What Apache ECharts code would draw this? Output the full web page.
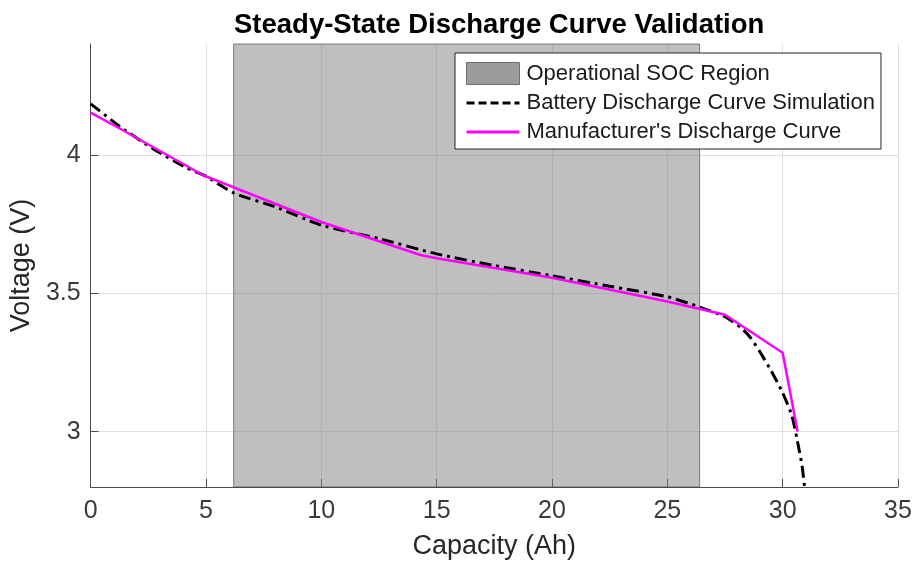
<!DOCTYPE html>
<html>
<head>
<meta charset="utf-8">
<title>Steady-State Discharge Curve Validation</title>
<script src="https://cdn.jsdelivr.net/npm/echarts@6/dist/echarts.min.js"></script>
<style>
  html, body { margin: 0; padding: 0; background: #fff; }
  #myChart { width: 916px; height: 566px; }
</style>
</head>
<body>
<div id="myChart"></div>
<script>
// data
const simCapacity = [0, 1.3, 2.7, 4.15, 5, 6.2, 8, 10, 12.5, 15, 17.5, 20, 22.5, 25, 26.4, 27.5, 28.2, 28.6, 29.0, 29.5, 30.0, 30.4, 30.62, 30.84, 30.95]
const simVoltage = [4.184, 4.100, 4.022, 3.953, 3.922, 3.862, 3.812, 3.746, 3.697, 3.642, 3.600, 3.563, 3.525, 3.487, 3.450, 3.415, 3.375, 3.340, 3.290, 3.220, 3.140, 3.058, 2.974, 2.877, 2.800]

const mfgCapacity = [0, 1.3, 2.7, 4.9, 10, 14.3, 15, 20, 25, 27.5, 30.0, 30.65]
const mfgVoltage = [4.152, 4.093, 4.028, 3.925, 3.757, 3.638, 3.626, 3.556, 3.470, 3.422, 3.285, 3.0]

const socRegion = [6.2, 26.4]
const yTicks = [3, 3.5, 4]

const seriesNames = ['Operational SOC Region', 'Battery Discharge Curve Simulation', "Manufacturer's Discharge Curve"]

const font = 'Liberation Sans, Arial, Helvetica, sans-serif'

function pairs(xs, ys) {
  return xs.map((x, i) => [x, ys[i]])
}

let myChart = echarts.init(document.getElementById('myChart'))

// line entries in the legend: keep the line, hide the marker
const noMarker = { color: 'rgba(0,0,0,0)', borderColor: 'rgba(0,0,0,0)', opacity: 0 }

let option = {
  animation: false,
  textStyle: { fontFamily: font },
  title: {
    text: 'Steady-State Discharge Curve Validation',
    left: 229,
    top: 6,
    textStyle: {
      fontFamily: font,
      fontSize: 27.5,
      fontWeight: 'bold',
      color: '#000'
    }
  },
  legend: {
    orient: 'vertical',
    left: 455,
    top: 53,
    padding: [9, 6, 6, 10],
    itemWidth: 53,
    itemHeight: 22,
    itemGap: 7,
    backgroundColor: '#fff',
    borderColor: '#262626',
    borderWidth: 1,
    borderRadius: 0,
    textStyle: { fontFamily: font, fontSize: 22, color: '#1a1a1a', padding: [0, 0, 0, 2] },
    data: [
      {
        name: seriesNames[0],
        icon: 'rect',
        itemStyle: { color: '#9c9c9c', borderColor: '#6e6e6e', borderWidth: 1 }
      },
      { name: seriesNames[1], itemStyle: noMarker, lineStyle: { width: 3, type: [8, 4] } },
      { name: seriesNames[2], itemStyle: noMarker, lineStyle: { width: 3 } }
    ]
  },
  grid: {
    left: 89,
    right: 18,
    top: 44,
    bottom: 79
  },
  xAxis: {
    type: 'value',
    min: 0,
    max: 35,
    interval: 5,
    name: 'Capacity (Ah)',
    nameLocation: 'middle',
    nameGap: 46,
    nameTextStyle: { fontFamily: font, fontSize: 27, color: '#262626' },
    axisLine: { onZero: false, lineStyle: { color: '#4d4d4d', width: 1 } },
    axisTick: { inside: true, length: 8, lineStyle: { color: '#4d4d4d' } },
    axisLabel: { fontFamily: font, fontSize: 25, color: '#3a3a3a', margin: 12 },
    splitLine: { show: true, lineStyle: { color: '#e0e0e0', width: 1 } }
  },
  yAxis: {
    type: 'value',
    min: 2.8,
    max: 4.4,
    name: 'Voltage (V)',
    nameLocation: 'middle',
    nameGap: 50,
    nameTextStyle: { fontFamily: font, fontSize: 27, color: '#262626' },
    axisLine: { show: true, onZero: false, lineStyle: { color: '#4d4d4d', width: 1 } },
    axisTick: { show: true, inside: true, length: 8, customValues: yTicks, lineStyle: { color: '#4d4d4d' } },
    axisLabel: { fontFamily: font, fontSize: 25, color: '#3a3a3a', margin: 10, customValues: yTicks },
    splitLine: { show: true, lineStyle: { color: '#e0e0e0', width: 1 } }
  },
  series: [
    {
      name: seriesNames[0],
      type: 'line',
      data: [],
      itemStyle: { color: '#9c9c9c' },
      markArea: {
        silent: true,
        itemStyle: {
          color: 'rgba(128,128,128,0.5)',
          borderColor: 'rgba(60,60,60,0.6)',
          borderWidth: 1
        },
        data: [[{ xAxis: socRegion[0] }, { xAxis: socRegion[1] }]]
      }
    },
    {
      name: seriesNames[1],
      type: 'line',
      showSymbol: false,
      symbol: 'none',
      smooth: 0.2,
      data: pairs(simCapacity, simVoltage),
      itemStyle: { color: '#000' },
      lineStyle: { color: '#000', width: 3, type: [12, 5, 3, 5] }
    },
    {
      name: seriesNames[2],
      type: 'line',
      showSymbol: false,
      symbol: 'none',
      data: pairs(mfgCapacity, mfgVoltage),
      itemStyle: { color: '#ff00ff' },
      lineStyle: { color: '#ff00ff', width: 2.5 }
    }
  ]
}

myChart.setOption(option)
</script>
</body>
</html>
